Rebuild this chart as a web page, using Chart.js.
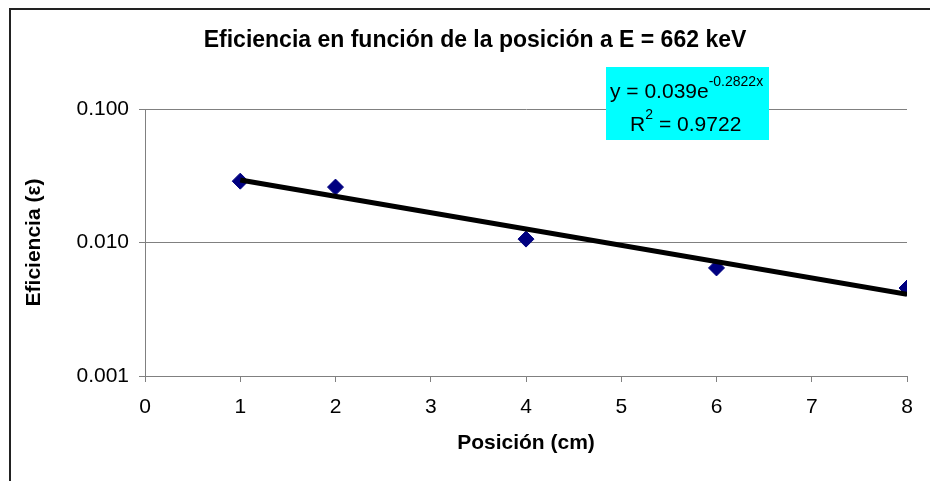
<!DOCTYPE html>
<html>
<head>
<meta charset="utf-8">
<script src="https://cdn.jsdelivr.net/npm/chart.js@4.4.0/dist/chart.umd.min.js"></script>
<style>
  html, body { margin: 0; padding: 0; background: #fff; overflow: hidden; }
  #wrap { position: relative; width: 930px; height: 481px; }
  #marco { position: absolute; left: 9px; top: 8px; width: 940px; height: 490px; border: 2px solid #222; }
  canvas { position: absolute; left: 0; top: 0; }
</style>
</head>
<body>
<div id="wrap">
  <div id="marco"></div>
  <canvas id="grafico" width="930" height="481"></canvas>
</div>
<script>
// Datos
const posiciones = [1, 2, 4, 6, 8];
const eficiencias = [0.0288, 0.0260, 0.0106, 0.00645, 0.00456];
// extremos de la linea de tendencia exponencial
const tendenciaX = [1, 8];
const tendenciaY = [0.0294, 0.0041];
const ticksY = [0.001, 0.01, 0.1];

const fuente = "'Liberation Sans', Arial, sans-serif";

// Titulo y cuadro de la ecuacion
const textosExtra = {
    id: 'textosExtra',
    afterDraw(chart) {
        const ctx = chart.ctx;
        ctx.save();
        ctx.fillStyle = '#000';
        ctx.font = 'bold 23px ' + fuente;
        ctx.textAlign = 'center';
        ctx.textBaseline = 'middle';
        ctx.fillText('Eficiencia en función de la posición a E = 662 keV', 475, 41);

        // cuadro cian
        ctx.fillStyle = '#00FFFF';
        ctx.fillRect(606, 67, 163, 73);
        ctx.fillStyle = '#000';
        ctx.textAlign = 'left';
        ctx.textBaseline = 'alphabetic';
        ctx.font = '21px ' + fuente;
        const t1 = 'y = 0.039e';
        ctx.fillText(t1, 610, 98);
        const w1 = ctx.measureText(t1).width;
        ctx.font = '14px ' + fuente;
        ctx.fillText('-0.2822x', 610 + w1, 86);
        ctx.font = '21px ' + fuente;
        ctx.fillText('R', 630, 131);
        const wr = ctx.measureText('R').width;
        ctx.font = '14px ' + fuente;
        ctx.fillText('2', 630 + wr, 119);
        ctx.font = '21px ' + fuente;
        ctx.fillText(' = 0.9722', 630 + wr + 8, 131);
        ctx.restore();
    }
};

new Chart(document.getElementById('grafico'), {
    type: 'scatter',
    data: {
        datasets: [{
            label: 'Tendencia',
            type: 'line',
            data: tendenciaX.map((x, i) => ({x: x, y: tendenciaY[i]})),
            borderColor: '#000',
            borderWidth: 5,
            pointRadius: 0,
            fill: false
        }, {
            label: 'Eficiencia',
            data: posiciones.map((x, i) => ({x: x, y: eficiencias[i]})),
            pointStyle: 'rectRot',
            pointRadius: 8,
            backgroundColor: '#000080',
            borderColor: '#000080',
            borderWidth: 1
        }]
    },
    options: {
        responsive: false,
        animation: false,
        layout: { padding: { top: 109, left: 10, right: 23, bottom: 10 } },
        plugins: {
            legend: { display: false },
            tooltip: { enabled: false },
            title: { display: false }
        },
        scales: {
            x: {
                type: 'linear',
                min: 0,
                max: 8,
                ticks: {
                    stepSize: 1,
                    color: '#000',
                    padding: 13,
                    font: { family: fuente, size: 21 }
                },
                grid: {
                    drawOnChartArea: false,
                    drawTicks: true,
                    tickLength: 6,
                    color: '#808080'
                },
                border: { color: '#808080', width: 1 },
                title: {
                    display: true,
                    text: 'Posición (cm)',
                    color: '#000',
                    font: { family: fuente, size: 21, weight: 'bold' },
                    padding: { top: 0, bottom: 15 }
                },
                afterFit(scale) { scale.height = 95; }
            },
            y: {
                type: 'logarithmic',
                min: 0.001,
                max: 0.1,
                afterBuildTicks(scale) {
                    scale.ticks = ticksY.map(v => ({value: v}));
                },
                ticks: {
                    color: '#000',
                    padding: 10,
                    font: { family: fuente, size: 21 },
                    callback: v => Number(v).toFixed(3)
                },
                grid: {
                    color: '#808080',
                    tickLength: 6,
                    lineWidth: 1
                },
                border: { color: '#808080', width: 1 },
                title: {
                    display: true,
                    text: 'Eficiencia (ε)',
                    color: '#000',
                    font: { family: fuente, size: 21, weight: 'bold' },
                    padding: { top: 12, bottom: 0 }
                },
                afterFit(scale) { scale.width = 135; }
            }
        }
    },
    plugins: [textosExtra]
});
</script>
</body>
</html>
